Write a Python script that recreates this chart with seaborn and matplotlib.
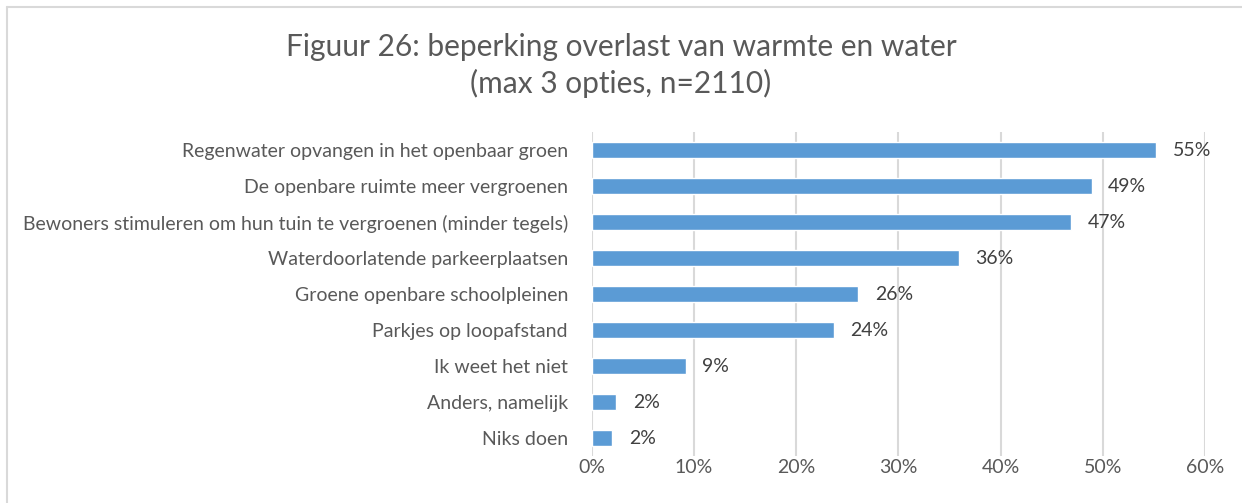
import numpy as np
import pandas as pd
import seaborn as sns
import matplotlib.pyplot as plt
from matplotlib.lines import Line2D
from matplotlib.ticker import PercentFormatter

categories = [
    "Regenwater opvangen in het openbaar groen",
    "De openbare ruimte meer vergroenen",
    "Bewoners stimuleren om hun tuin te vergroenen (minder tegels)",
    "Waterdoorlatende parkeerplaatsen",
    "Groene openbare schoolpleinen",
    "Parkjes op loopafstand",
    "Ik weet het niet",
    "Anders, namelijk",
    "Niks doen",
]
shares = [0.552, 0.489, 0.469, 0.359, 0.261, 0.237, 0.092, 0.024, 0.020]
value_labels = ["55%", "49%", "47%", "36%", "26%", "24%", "9%", "2%", "2%"]
xticks = [0.0, 0.1, 0.2, 0.3, 0.4, 0.5, 0.6]

title = "Figuur 26: beperking overlast van warmte en water\n(max 3 opties, n=2110)"

sns.set_style("white")
plt.rcParams['font.family'] = ['Lato', 'DejaVu Sans']

df = pd.DataFrame({"categorie": categories, "aandeel": shares})

fig = plt.figure(figsize=(12.42, 5.03), dpi=100)
ax = fig.add_axes([0.4763, 0.0934, 0.4940, 0.644])

sns.barplot(data=df, x="aandeel", y="categorie", orient="h", color="#5B9BD5",
            saturation=1, width=0.45, ax=ax, zorder=3)

ax.set_xlim(0, 0.6)
ax.set_xticks(xticks)
ax.xaxis.set_major_formatter(PercentFormatter(1.0, decimals=0))
ax.grid(axis="x", color="#D9D9D9", linewidth=1.5, zorder=0)
ax.set_axisbelow(True)
for s in ax.spines.values():
    s.set_visible(False)
ax.set_xlabel("")
ax.set_ylabel("")
ax.tick_params(axis="x", colors="#595959", labelsize=14, length=0, pad=2)
ax.tick_params(axis="y", colors="#595959", labelsize=14, length=0, pad=17)

ax.bar_label(ax.containers[0], labels=value_labels, padding=12,
             fontsize=14, color="#404040")

fig.suptitle(title, x=0.5, y=0.935, fontsize=21.5, color="#595959",
             linespacing=1.35, va="top")

# chart frame (cut off at right and bottom)
fig.add_artist(Line2D([7 / 1242, 1], [1 - 7 / 503, 1 - 7 / 503],
                      transform=fig.transFigure, color="#D9D9D9", linewidth=1.5))
fig.add_artist(Line2D([7 / 1242, 7 / 1242], [0, 1 - 7 / 503],
                      transform=fig.transFigure, color="#D9D9D9", linewidth=1.5))

plt.savefig("out.png", dpi=100)
